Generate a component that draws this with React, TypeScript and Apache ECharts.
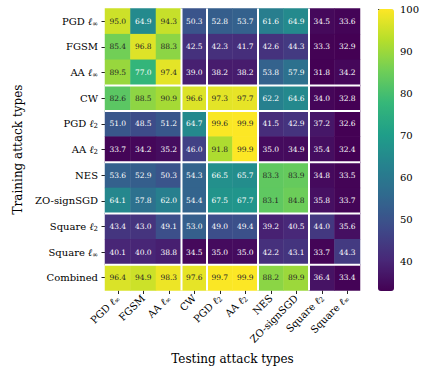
import React, { useEffect, useRef } from "react";
import * as echarts from "echarts";

const testingTypes = ["PGD ℓ∞", "FGSM", "AA ℓ∞", "CW", "PGD ℓ2", "AA ℓ2", "NES", "ZO-signSGD", "Square ℓ2", "Square ℓ∞"];
const trainingTypes = ["PGD ℓ∞", "FGSM", "AA ℓ∞", "CW", "PGD ℓ2", "AA ℓ2", "NES", "ZO-signSGD", "Square ℓ2", "Square ℓ∞", "Combined"];

const rowPGDinf = [95.0, 64.9, 94.3, 50.3, 52.8, 53.7, 61.6, 64.9, 34.5, 33.6];
const rowFGSM = [85.4, 96.8, 88.3, 42.5, 42.3, 41.7, 42.6, 44.3, 33.3, 32.9];
const rowAAinf = [89.5, 77.0, 97.4, 39.0, 38.2, 38.2, 53.8, 57.9, 31.8, 34.2];
const rowCW = [82.6, 88.5, 90.9, 96.6, 97.3, 97.7, 62.2, 64.6, 34.0, 32.8];
const rowPGD2 = [51.0, 48.5, 51.2, 64.7, 99.6, 99.9, 41.5, 42.9, 37.2, 32.6];
const rowAA2 = [33.7, 34.2, 35.2, 46.0, 91.8, 99.9, 35.0, 34.9, 35.4, 32.4];
const rowNES = [53.6, 52.9, 50.3, 54.3, 66.5, 65.7, 83.3, 83.9, 34.8, 33.5];
const rowZO = [64.1, 57.8, 62.0, 54.4, 67.5, 67.7, 83.1, 84.8, 35.8, 33.7];
const rowSq2 = [43.4, 43.0, 49.1, 53.0, 49.0, 49.4, 39.2, 40.5, 44.0, 35.6];
const rowSqInf = [40.1, 40.0, 38.8, 34.5, 35.0, 35.0, 42.2, 43.1, 33.7, 44.3];
const rowCombined = [96.4, 94.9, 98.3, 97.6, 99.7, 99.9, 88.2, 89.9, 36.4, 33.4];

const matrix = [rowPGDinf, rowFGSM, rowAAinf, rowCW, rowPGD2, rowAA2, rowNES, rowZO, rowSq2, rowSqInf, rowCombined];

const colBreaks = [3, 4, 6, 8];
const rowBreaks = [3, 4, 6, 8, 10];

const colorbarTicks = [40, 50, 60, 70, 80, 90, 100];
const vmin = 33;
const vmax = 100;

const viridis = ["#440154", "#482878", "#3e4a89", "#31688e", "#26828e", "#1f9e89", "#35b779", "#6ece58", "#b5de2b", "#fde725"];

const FONT = "DejaVu Serif";

function fmtLabel(name: string): string {
  return name.replace(/ℓ(∞|2)/g, (_m, s) => `{l|ℓ}{s|${s}}`);
}

const richStyles = {
  l: { fontFamily: FONT, fontStyle: "italic", fontSize: 10, color: "#000" },
  s: { fontFamily: FONT, fontSize: 7, color: "#000", padding: [5, 0, 0, 0] },
};

export default function App() {
  const ref = useRef<HTMLDivElement>(null);
  useEffect(() => {
    if (!ref.current) return;
    const chart = echarts.init(ref.current, undefined, { renderer: "svg" });
    const data: any[] = [];
    matrix.forEach((row, yi) => {
      row.forEach((v, xi) => {
        const norm = (v - vmin) / (vmax - vmin);
        data.push({
          value: [xi, yi, v],
          label: {
            show: true,
            fontFamily: FONT,
            fontSize: 7.5,
            color: norm > 0.72 ? "#262626" : "#ffffff",
          },
        });
      });
    });
    const sepData: number[][] = [
      ...colBreaks.map((b) => [b, 0, 0]),
      ...rowBreaks.map((b) => [0, b, 1]),
    ];
    chart.setOption({
      animation: false,
      textStyle: { fontFamily: FONT },
      grid: [
        { left: 105, top: 8.5, width: 255, height: 282 },
        { left: 378, top: 9, width: 16, height: 282 },
      ],
      xAxis: [
        {
          type: "category",
          gridIndex: 0,
          data: testingTypes,
          axisLine: { show: false },
          axisTick: { show: true, alignWithLabel: true, length: 3.5, lineStyle: { color: "#262626", width: 1 } },
          axisLabel: {
            rotate: 45,
            margin: 6,
            interval: 0,
            fontFamily: FONT,
            fontSize: 10,
            color: "#000",
            formatter: (v: string) => fmtLabel(v),
            rich: richStyles,
          },
          splitLine: { show: false },
          name: "Testing attack types",
          nameLocation: "middle",
          nameGap: 62,
          nameTextStyle: { fontFamily: FONT, fontSize: 12, color: "#000" },
        },
        { type: "value", gridIndex: 1, show: false, min: 0, max: 1 },
      ],
      yAxis: [
        {
          type: "category",
          gridIndex: 0,
          inverse: true,
          data: trainingTypes,
          axisLine: { show: false },
          axisTick: { show: true, alignWithLabel: true, length: 3.5, lineStyle: { color: "#262626", width: 1 } },
          axisLabel: {
            margin: 7,
            interval: 0,
            fontFamily: FONT,
            fontSize: 10,
            color: "#000",
            formatter: (v: string) => fmtLabel(v),
            rich: richStyles,
          },
          splitLine: { show: false },
          name: "Training attack types",
          nameLocation: "middle",
          nameGap: 79,
          nameRotate: 90,
          nameTextStyle: { fontFamily: FONT, fontSize: 12, color: "#000" },
        },
        {
          type: "value",
          gridIndex: 1,
          position: "right",
          min: vmin,
          max: vmax,
          axisLine: { show: false },
          splitLine: { show: false },
          axisTick: { show: true, length: 3.5, customValues: colorbarTicks, lineStyle: { color: "#262626", width: 1 } },
          axisLabel: { customValues: colorbarTicks, margin: 6, fontFamily: FONT, fontSize: 10, color: "#000" },
        },
      ],
      visualMap: {
        type: "continuous",
        seriesIndex: 0,
        min: vmin,
        max: vmax,
        calculable: false,
        hoverLink: false,
        orient: "vertical",
        left: 378,
        top: 9,
        padding: 0,
        itemWidth: 16,
        itemHeight: 282,
        text: ["", ""],
        showLabel: false,
        inRange: { color: viridis },
      },
      series: [
        {
          type: "heatmap",
          xAxisIndex: 0,
          yAxisIndex: 0,
          data,
          label: {
            show: true,
            fontFamily: FONT,
            fontSize: 7.5,
            formatter: (p: any) => p.value[2].toFixed(1),
          },
          emphasis: { disabled: true },
          itemStyle: { borderWidth: 0 },
        },
        {
          type: "custom",
          xAxisIndex: 0,
          yAxisIndex: 0,
          data: sepData,
          z: 10,
          clip: false,
          silent: true,
          renderItem: (params: any, api: any) => {
            const kind = api.value(2);
            const cs = params.coordSys;
            const size = api.size([1, 1]);
            if (kind === 0) {
              const c = api.coord([api.value(0), 0]);
              const x = c[0] - size[0] / 2;
              return {
                type: "line",
                shape: { x1: x, y1: cs.y, x2: x, y2: cs.y + cs.height },
                style: { stroke: "#ffffff", lineWidth: 2 },
              };
            }
            const c = api.coord([0, api.value(1)]);
            const y = c[1] - size[1] / 2;
            return {
              type: "line",
              shape: { x1: cs.x, y1: y, x2: cs.x + cs.width, y2: y },
              style: { stroke: "#ffffff", lineWidth: 2 },
            };
          },
        },
      ],
    });
    return () => chart.dispose();
  }, []);
  return (
    <div
      ref={ref}
      style={{ position: "fixed", left: 0, top: 0, width: 423, height: 371, background: "#fff" }}
    />
  );
}
